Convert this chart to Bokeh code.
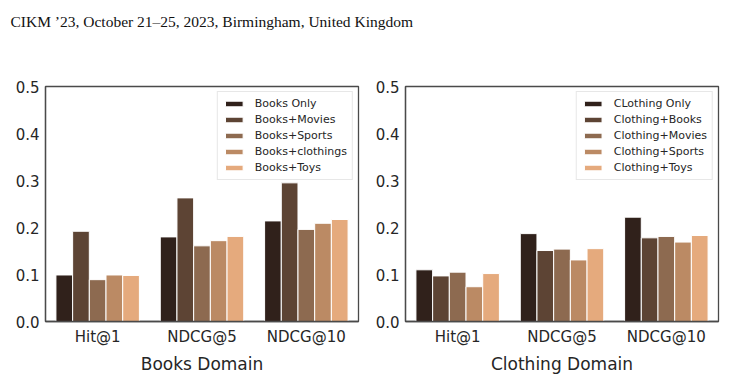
from bokeh.plotting import figure
from bokeh.layouts import column, row
from bokeh.models import ColumnDataSource, FactorRange, Legend, LegendItem, Range1d, FixedTicker, NumeralTickFormatter
from bokeh.transform import dodge
from bokeh.core.properties import value
from bokeh.embed import file_html
from bokeh.resources import INLINE

header_text = "CIKM \u201923, October 21\u201325, 2023, Birmingham, United Kingdom"
metrics = ["Hit@1", "NDCG@5", "NDCG@10"]

books_series = ["Books Only", "Books+Movies", "Books+Sports", "Books+clothings", "Books+Toys"]
books_only = [0.099, 0.180, 0.214]
books_movies = [0.192, 0.263, 0.295]
books_sports = [0.089, 0.161, 0.196]
books_clothings = [0.099, 0.172, 0.209]
books_toys = [0.098, 0.181, 0.217]

clothing_series = ["CLothing Only", "Clothing+Books", "Clothing+Movies", "Clothing+Sports", "Clothing+Toys"]
clothing_only = [0.110, 0.187, 0.222]
clothing_books = [0.097, 0.151, 0.178]
clothing_movies = [0.105, 0.154, 0.181]
clothing_sports = [0.074, 0.131, 0.169]
clothing_toys = [0.102, 0.155, 0.183]

colors = ["#30211b", "#5d4434", "#8d6a50", "#bb8a64", "#e5aa7d"]
y_ticks = [0.0, 0.1, 0.2, 0.3, 0.4, 0.5]

TICK_COLOR = "#262626"
FONT = "DejaVu Sans"


def make_panel(series_names, series_values, xlabel, border_left, border_right):
    p = figure(x_range=FactorRange(*metrics, range_padding=0), y_range=Range1d(0, 0.5),
               frame_width=313, frame_height=235, output_backend="svg", toolbar_location=None,
               min_border_left=border_left, min_border_right=border_right,
               min_border_top=26, min_border_bottom=56)
    data = {"metric": metrics}
    for i, vals in enumerate(series_values):
        data["s%d" % i] = vals
    src = ColumnDataSource(data)
    offsets = [-0.32, -0.16, 0.0, 0.16, 0.32]
    items = []
    for i, name in enumerate(series_names):
        r = p.vbar(x=dodge("metric", offsets[i], range=p.x_range), top="s%d" % i, width=0.16,
                   source=src, fill_color=colors[i], line_color="white", line_width=1)
        items.append(LegendItem(label=name, renderers=[r]))
    legend = Legend(items=items, location="top_right", label_text_font_size="11px",
                    label_text_font=FONT, label_text_color=TICK_COLOR,
                    glyph_width=22, glyph_height=7, label_height=10, spacing=3,
                    padding=5, margin=5, border_line_color="#d0d0d0", border_line_width=1,
                    background_fill_alpha=0.9, label_standoff=10)
    p.add_layout(legend)
    p.xgrid.visible = False
    p.ygrid.visible = False
    p.outline_line_color = "#4a4a4a"
    p.outline_line_width = 1.3
    p.yaxis.ticker = FixedTicker(ticks=y_ticks)
    p.yaxis.formatter = NumeralTickFormatter(format="0.0")
    for ax in (p.xaxis[0], p.yaxis[0]):
        ax.major_tick_line_color = None
        ax.minor_tick_line_color = None
        ax.major_tick_out = 0
        ax.major_tick_in = 0
        ax.minor_tick_out = 0
        ax.axis_line_color = "#4a4a4a"
        ax.axis_line_width = 1.3
        ax.major_label_text_font = FONT
        ax.major_label_text_font_size = "15px"
        ax.major_label_text_color = TICK_COLOR
    p.yaxis.major_label_standoff = 6
    p.xaxis.major_label_standoff = 6
    p.xaxis.axis_label = xlabel
    p.xaxis.axis_label_text_font = FONT
    p.xaxis.axis_label_text_font_size = "17px"
    p.xaxis.axis_label_text_font_style = "normal"
    p.xaxis.axis_label_text_color = TICK_COLOR
    p.xaxis.axis_label_standoff = 5
    return p


p1 = make_panel(books_series, [books_only, books_movies, books_sports, books_clothings, books_toys],
                "Books Domain", 45, 7)
p2 = make_panel(clothing_series, [clothing_only, clothing_books, clothing_movies, clothing_sports, clothing_toys],
                "Clothing Domain", 40, 15)

hdr = figure(width=733, height=60, output_backend="svg", toolbar_location=None,
             x_range=Range1d(0, 733), y_range=Range1d(60, 0),
             min_border=0)
hdr.axis.visible = False
hdr.grid.visible = False
hdr.outline_line_color = None
hdr.text(x=[10], y=[21], text=[header_text], text_font=value("Liberation Serif"),
         text_font_size="15.5px", text_baseline="middle", text_align="left", text_color="#111111")

layout = column(hdr, row(p1, p2, spacing=0), spacing=0)
open("out.html", "w").write(file_html(layout, INLINE))
